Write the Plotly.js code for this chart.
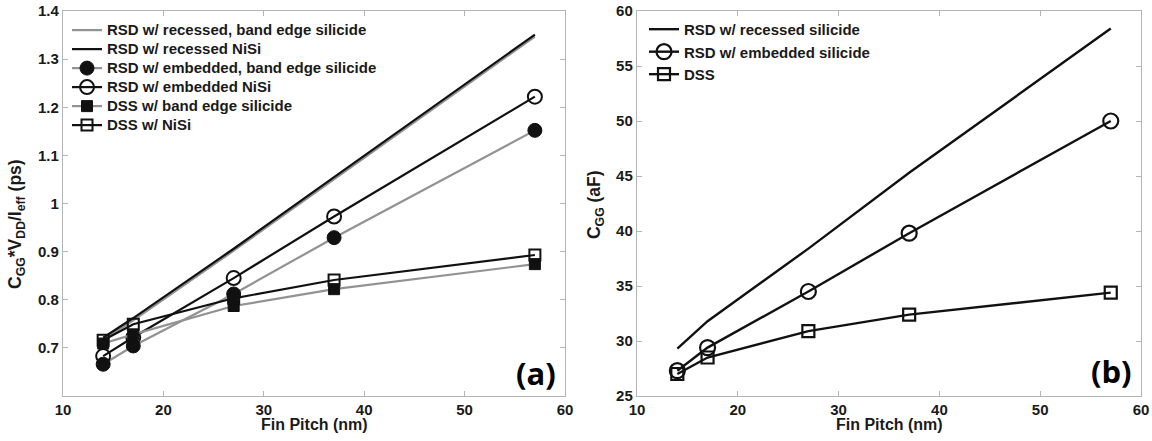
<!DOCTYPE html>
<html><head><meta charset="utf-8">
<script src="https://cdn.plot.ly/plotly-3.0.1.min.js"></script>
<style>
html,body{margin:0;padding:0;background:#fff}
.infolayer .scrollbox{clip-path:none !important}
</style>
</head><body>
<div id="chart" style="width:1152px;height:441px"></div>
<script>
// Shared x values (fin pitch, nm)
const finPitch = [14, 17, 27, 37, 57];

// Panel (a): CGG*VDD/Ieff (ps)
const recessedBandEdge = [0.716, 0.757, 0.902, 1.050, 1.347];
const recessedNiSi     = [0.721, 0.762, 0.906, 1.055, 1.351];
const embeddedBandEdge = [0.666, 0.704, 0.812, 0.929, 1.152];
const embeddedNiSi     = [0.683, 0.722, 0.845, 0.973, 1.222];
const dssBandEdge      = [0.709, 0.728, 0.787, 0.822, 0.874];
const dssNiSi          = [0.716, 0.749, 0.803, 0.841, 0.893];

// Panel (b): CGG (aF)
const recessedCgg = [29.3, 31.8, 38.4, 45.3, 58.4];
const embeddedCgg = [27.3, 29.4, 34.5, 39.8, 50.0];
const dssCgg      = [27.0, 28.5, 30.9, 32.4, 34.4];

const namesA = ['RSD w/ recessed, band edge silicide', 'RSD w/ recessed NiSi',
  'RSD w/ embedded, band edge silicide', 'RSD w/ embedded NiSi',
  'DSS w/ band edge silicide', 'DSS w/ NiSi'];
const namesB = ['RSD w/ recessed silicide', 'RSD w/ embedded silicide', 'DSS'];

const xTicks = [10, 20, 30, 40, 50, 60];
const yTicksA = [0.7, 0.8, 0.9, 1.0, 1.1, 1.2, 1.3, 1.4];
const yTickTextA = ['0.7', '0.8', '0.9', '1', '1.1', '1.2', '1.3', '1.4'];
const yTicksB = [25, 30, 35, 40, 45, 50, 55, 60];

const FONT = 'Liberation Sans, Arial, sans-serif';
const BLACK = '#111';
const GRAY = '#929292';

function tr(y, name, opts) {
  return Object.assign({x: finPitch, y: y, name: name, type: 'scatter'}, opts);
}

const traces = [
  tr(recessedBandEdge, namesA[0], {mode: 'lines', line: {color: GRAY, width: 2.2}, xaxis: 'x', yaxis: 'y', legend: 'legend'}),
  tr(recessedNiSi, namesA[1], {mode: 'lines', line: {color: BLACK, width: 2.2}, xaxis: 'x', yaxis: 'y', legend: 'legend'}),
  tr(embeddedBandEdge, namesA[2], {mode: 'lines+markers', line: {color: GRAY, width: 2.2},
      marker: {symbol: 'circle', size: 14, color: BLACK, line: {color: BLACK, width: 1}}, xaxis: 'x', yaxis: 'y', legend: 'legend'}),
  tr(embeddedNiSi, namesA[3], {mode: 'lines+markers', line: {color: BLACK, width: 2.2},
      marker: {symbol: 'circle-open', size: 14, color: BLACK, line: {color: BLACK, width: 2}}, xaxis: 'x', yaxis: 'y', legend: 'legend'}),
  tr(dssBandEdge, namesA[4], {mode: 'lines+markers', line: {color: GRAY, width: 2.2},
      marker: {symbol: 'square', size: 11, color: BLACK, line: {color: BLACK, width: 1}}, xaxis: 'x', yaxis: 'y', legend: 'legend'}),
  tr(dssNiSi, namesA[5], {mode: 'lines+markers', line: {color: BLACK, width: 2.2},
      marker: {symbol: 'square-open', size: 11, color: BLACK, line: {color: BLACK, width: 2}}, xaxis: 'x', yaxis: 'y', legend: 'legend'}),
  tr(recessedCgg, namesB[0], {mode: 'lines', line: {color: BLACK, width: 2.4}, xaxis: 'x2', yaxis: 'y2', legend: 'legend2'}),
  tr(embeddedCgg, namesB[1], {mode: 'lines+markers', line: {color: BLACK, width: 2.4},
      marker: {symbol: 'circle-open', size: 15, color: BLACK, line: {color: BLACK, width: 2.2}}, xaxis: 'x2', yaxis: 'y2', legend: 'legend2'}),
  tr(dssCgg, namesB[2], {mode: 'lines+markers', line: {color: BLACK, width: 2.4},
      marker: {symbol: 'square-open', size: 12, color: BLACK, line: {color: BLACK, width: 2.2}}, xaxis: 'x2', yaxis: 'y2', legend: 'legend2'})
];

function axis(extra) {
  return Object.assign({
    showgrid: false, zeroline: false, showline: true, linecolor: '#b5b5b5', linewidth: 1.2,
    mirror: 'ticks', ticks: 'inside', ticklen: 5, tickcolor: '#b5b5b5', tickwidth: 1,
    tickfont: {family: FONT, size: 15, color: '#1a1a1a', weight: 'bold'}
  }, extra);
}

const layout = {
  width: 1152, height: 441,
  margin: {l: 0, r: 0, t: 11, b: 45},
  paper_bgcolor: '#fff', plot_bgcolor: '#fff',
  showlegend: true,
  xaxis: axis({domain: [63/1152, 565/1152], range: [10, 60], tickvals: xTicks, anchor: 'y'}),
  yaxis: axis({domain: [0, 1], range: [0.6, 1.4], tickvals: yTicksA, ticktext: yTickTextA, anchor: 'x'}),
  xaxis2: axis({domain: [637/1152, 1141/1152], range: [10, 60], tickvals: xTicks, anchor: 'y2'}),
  yaxis2: axis({domain: [0, 1], range: [25, 60], tickvals: yTicksB, anchor: 'x2'}),
  legend: {x: 67/1152, y: 0.988, xref: 'paper', yref: 'paper', xanchor: 'left', yanchor: 'top',
    bgcolor: 'rgba(255,255,255,0)', itemwidth: 30, tracegroupgap: 0,
    font: {family: FONT, size: 11, color: '#1a1a1a', weight: 'bold'}},
  legend2: {x: 644/1152, y: 0.995, xref: 'paper', yref: 'paper', xanchor: 'left', yanchor: 'top',
    bgcolor: 'rgba(255,255,255,0)', itemwidth: 30, tracegroupgap: 0,
    font: {family: FONT, size: 15, color: '#1a1a1a', weight: 'bold'}},
  annotations: [
    {text: '<b>C<sub>GG</sub>*V<sub>DD</sub>/I<sub>eff</sub> (ps)</b>', xref: 'paper', yref: 'paper',
     x: 17/1152, y: 0.447, textangle: -90, showarrow: false, xanchor: 'center', yanchor: 'middle',
     font: {family: FONT, size: 17.5, color: '#1a1a1a'}},
    {text: '<b>C<sub>GG</sub> (aF)</b>', xref: 'paper', yref: 'paper',
     x: 595/1152, y: 0.496, textangle: -90, showarrow: false, xanchor: 'center', yanchor: 'middle',
     font: {family: FONT, size: 17.5, color: '#1a1a1a'}},
    {text: '<b>Fin Pitch (nm)</b>', xref: 'paper', yref: 'paper', x: 314/1152, y: -0.075,
     showarrow: false, xanchor: 'center', yanchor: 'middle', font: {family: FONT, size: 16, color: '#1a1a1a'}},
    {text: '<b>Fin Pitch (nm)</b>', xref: 'paper', yref: 'paper', x: 889/1152, y: -0.075,
     showarrow: false, xanchor: 'center', yanchor: 'middle', font: {family: FONT, size: 16, color: '#1a1a1a'}},
    {text: '<b>(a)</b>', xref: 'paper', yref: 'paper', x: 558/1152, y: 0.06,
     showarrow: false, xanchor: 'right', yanchor: 'middle', font: {family: 'Open Sans, sans-serif', size: 31, color: '#000'}},
    {text: '<b>(b)</b>', xref: 'paper', yref: 'paper', x: 1134/1152, y: 0.065,
     showarrow: false, xanchor: 'right', yanchor: 'middle', font: {family: 'Open Sans, sans-serif', size: 31, color: '#000'}}
  ]
};

// Panel (a) legend rows are compact in the original; its text is drawn larger than the row spacing font.
const SIZE_A = 15;

function restyleLegendText() {
  document.querySelectorAll('text.legendtext').forEach(function (el) {
    const txt = (el.textContent || '').trim();
    if (namesA.indexOf(txt) < 0) return;
    el.style.setProperty('font-size', SIZE_A + 'px', 'important');
    el.setAttribute('y', (SIZE_A * 0.35).toFixed(2));
  });
  document.querySelectorAll('.infolayer .scrollbox').forEach(function (el) { el.removeAttribute('clip-path'); });
}

Plotly.newPlot('chart', traces, layout, {displayModeBar: false, staticPlot: true}).then(function () {
  restyleLegendText();
});
</script>
</body></html>
